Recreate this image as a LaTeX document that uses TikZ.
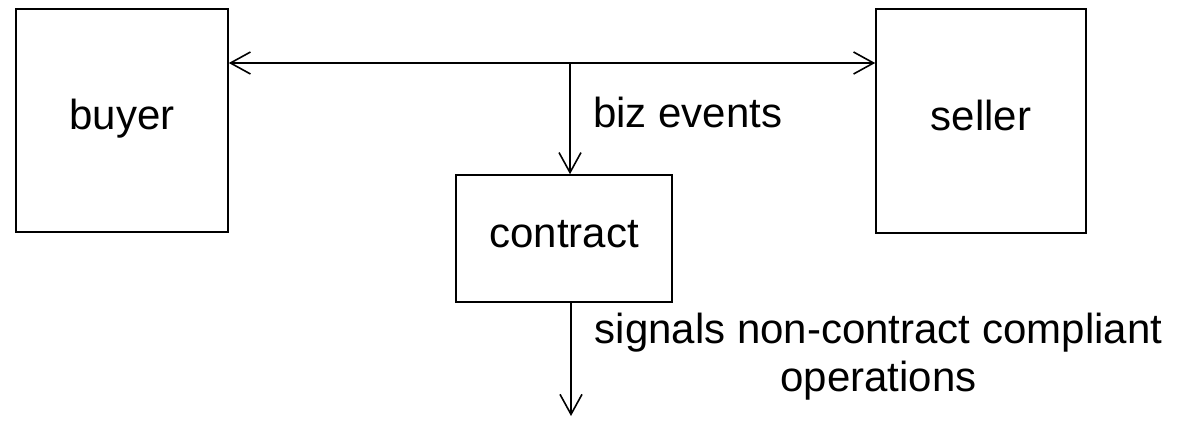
\documentclass[tikz,border=0pt]{standalone}
\usepackage{fontspec}
\setmainfont{Liberation Sans}
\usetikzlibrary{arrows.meta}
\tikzset{
  box/.style={draw, line width=1.6pt, inner sep=0pt, text height=30pt, text depth=12pt,
              font=\fontsize{42}{48}\selectfont},
  lbl/.style={inner sep=0pt, font=\fontsize{42}{48}\selectfont},
  flow/.style={line width=1.6pt, -{Straight Barb[length=20pt,width=22pt,line width=1.6pt]}},
  biflow/.style={line width=1.6pt, {Straight Barb[length=20pt,width=22pt,line width=1.6pt]}-{Straight Barb[length=20pt,width=22pt,line width=1.6pt]}}
}
\begin{document}
\begin{tikzpicture}[x=1pt,y=-1pt]
  \useasboundingbox (0,0) rectangle (1178,426);
  % parties and the contract
  \node[box, minimum width=212pt, minimum height=223pt] (buyer) at (122,120.5) {buyer};
  \node[box, minimum width=210pt, minimum height=224pt] (seller) at (981,121) {seller};
  \node[box, minimum width=216pt, minimum height=127pt] (contract) at (564,238.5) {contract};
  % branch point on the event bus and the output end
  \coordinate (junction) at (570,63);
  \coordinate (out) at (571,416);
  % event bus between buyer and seller
  \draw[biflow] (buyer.east |- junction) -- (seller.west |- junction);
  \draw[flow] (junction) -- (junction |- contract.north);
  \draw[flow] (contract.south -| out) -- (out);
  % labels (base of a two-line node is the baseline of its last line)
  \node[lbl, anchor=base west] (bizlbl) at (593,127) {biz events};
  \node[lbl, anchor=base, align=center] (siglbl) at (878.5,391) {signals non-contract compliant\\operations};
\end{tikzpicture}
\end{document}
